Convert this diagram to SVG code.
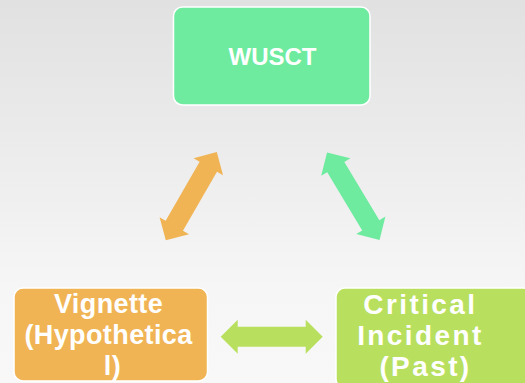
<svg xmlns="http://www.w3.org/2000/svg" width="525" height="383" viewBox="0 0 525 383">
  <defs>
    <linearGradient id="bg" x1="0" y1="0" x2="0" y2="1">
      <stop offset="0" stop-color="#e1e1e1"/>
      <stop offset="0.75" stop-color="#f6f6f6"/>
      <stop offset="1" stop-color="#f8f8f8"/>
    </linearGradient>
    <path id="darrow" d="M-51,0 L-34,-17 L-34,-10 L34,-10 L34,-17 L51,0 L34,17 L34,10 L-34,10 L-34,17 Z"/>
  </defs>
  <style>
    .box { stroke: #ffffff; stroke-width: 1.5; }
    .lbl { font-family: "Liberation Sans", Arial, sans-serif; font-weight: bold; fill: #ffffff; text-anchor: middle; }
  </style>
  <rect x="0" y="0" width="525" height="383" fill="url(#bg)"/>

  <g id="connectors">
    <use href="#darrow" fill="#f0b454" transform="translate(191.3,196.2) rotate(-60)"/>
    <use href="#darrow" fill="#6eeb9f" transform="translate(353.3,196.2) rotate(59)"/>
    <use href="#darrow" fill="#b8e05e" transform="translate(271.7,336.7)"/>
  </g>

  <g id="node-wusct">
    <rect class="box" x="173.5" y="7" width="196.5" height="98" rx="9" fill="#6eeb9f"/>
    <text class="lbl" x="272.5" y="65" font-size="24">WUSCT</text>
  </g>

  <g id="node-vignette">
    <rect class="box" x="14" y="288" width="193.5" height="93" rx="9" fill="#f0b454"/>
    <text class="lbl" font-size="27" letter-spacing="0.4">
      <tspan x="112.5" y="313">Vignette</tspan>
      <tspan x="112.5" y="344">(Hypothetica</tspan>
      <tspan x="112.5" y="375">l)</tspan>
    </text>
  </g>

  <g id="node-critical">
    <rect class="box" x="336" y="288" width="196" height="100" rx="9" fill="#b8e05e"/>
    <text class="lbl" font-size="28" letter-spacing="2.4">
      <tspan x="425.5" y="314">Critical</tspan>
      <tspan x="425.5" y="345">Incident</tspan>
      <tspan x="425.5" y="376">(Past)</tspan>
    </text>
  </g>
</svg>
